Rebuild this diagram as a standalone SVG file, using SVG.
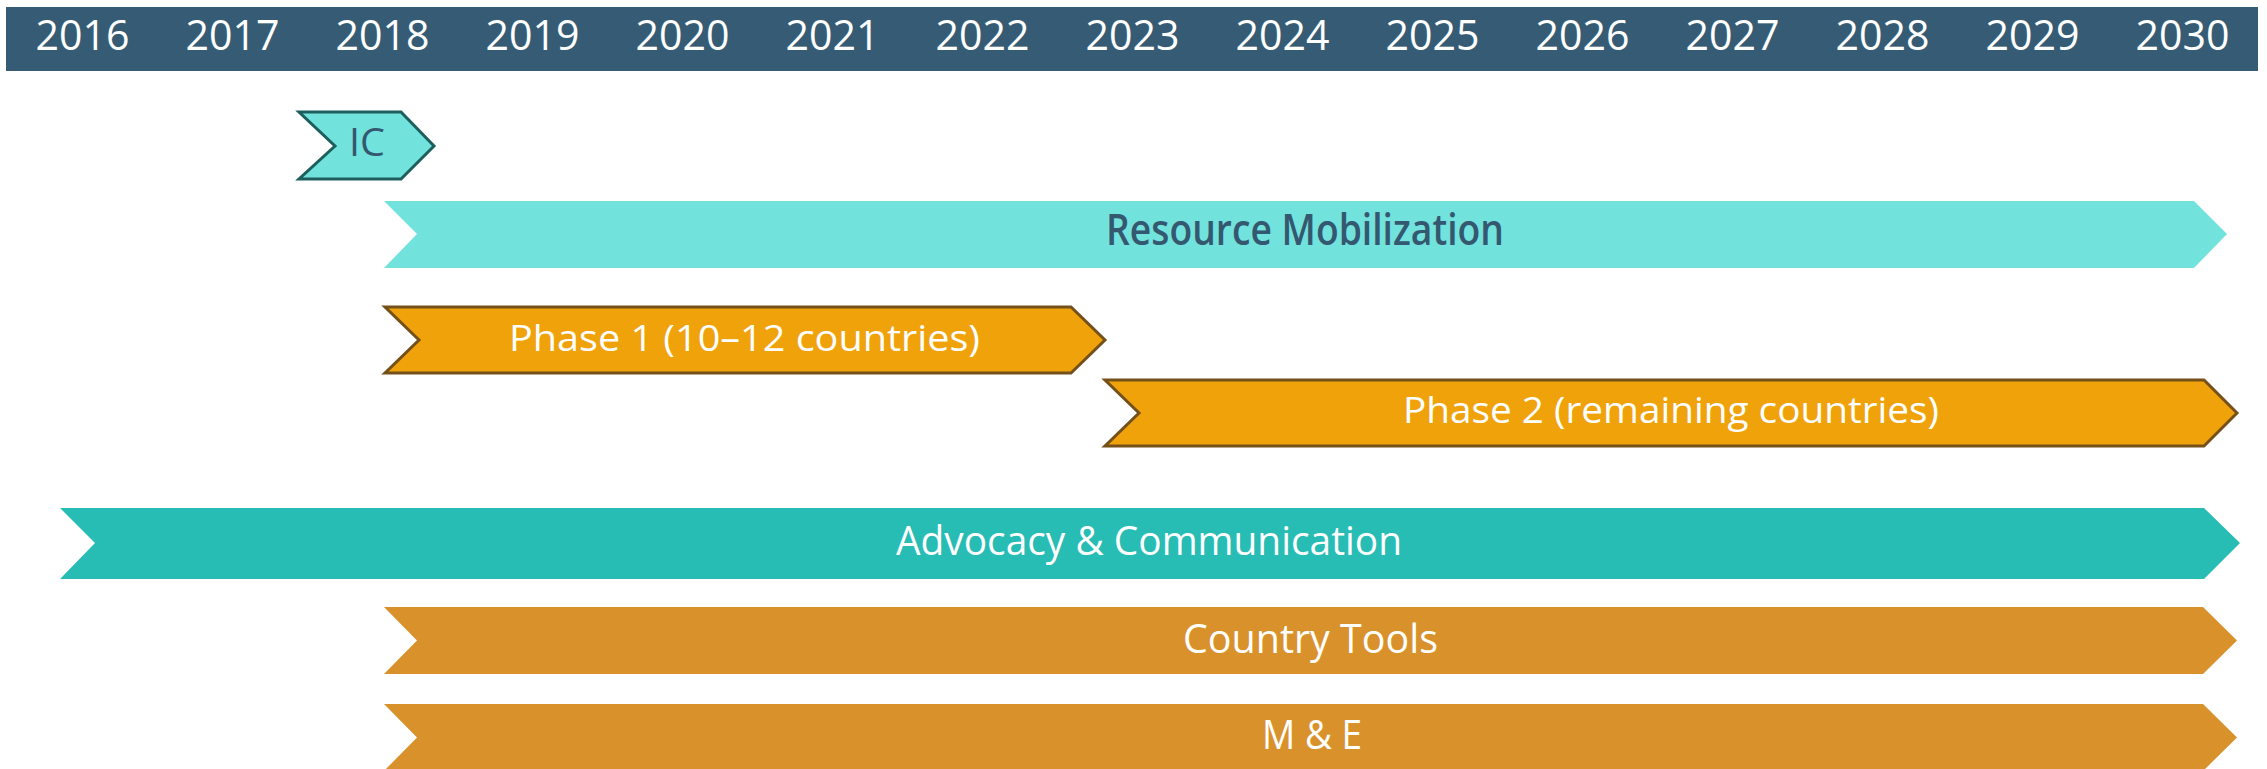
<svg xmlns="http://www.w3.org/2000/svg" width="2267" height="769" viewBox="0 0 2267 769">
  <style>
    text { font-family: "Open Sans", "Noto Sans", "Liberation Sans", sans-serif; text-anchor: middle; font-weight: 500; }
    .year { fill: #ffffff; font-size: 42px; }
    .dark { fill: #34586f; font-weight: 600; }
    .dark.regular { font-weight: 400; }
    .light { fill: #ffffff; }
    .teal-light { fill: #72e2dc; }
    .teal-dark { fill: #27bcb4; }
    .amber { fill: #f0a20b; stroke: #74501a; stroke-width: 3; stroke-linejoin: miter; }
    .ochre { fill: #d9922b; }
  </style>

  <!-- Year header band -->
  <g id="header">
    <rect x="6" y="7" width="2252" height="64" fill="#355c74"/>
    <text class="year" x="82.5" y="50" textLength="94" lengthAdjust="spacingAndGlyphs">2016</text>
    <text class="year" x="232.5" y="50" textLength="94" lengthAdjust="spacingAndGlyphs">2017</text>
    <text class="year" x="382.5" y="50" textLength="94" lengthAdjust="spacingAndGlyphs">2018</text>
    <text class="year" x="532.5" y="50" textLength="94" lengthAdjust="spacingAndGlyphs">2019</text>
    <text class="year" x="682.5" y="50" textLength="94" lengthAdjust="spacingAndGlyphs">2020</text>
    <text class="year" x="832.5" y="50" textLength="94" lengthAdjust="spacingAndGlyphs">2021</text>
    <text class="year" x="982.5" y="50" textLength="94" lengthAdjust="spacingAndGlyphs">2022</text>
    <text class="year" x="1132.5" y="50" textLength="94" lengthAdjust="spacingAndGlyphs">2023</text>
    <text class="year" x="1282.5" y="50" textLength="94" lengthAdjust="spacingAndGlyphs">2024</text>
    <text class="year" x="1432.5" y="50" textLength="94" lengthAdjust="spacingAndGlyphs">2025</text>
    <text class="year" x="1582.5" y="50" textLength="94" lengthAdjust="spacingAndGlyphs">2026</text>
    <text class="year" x="1732.5" y="50" textLength="94" lengthAdjust="spacingAndGlyphs">2027</text>
    <text class="year" x="1882.5" y="50" textLength="94" lengthAdjust="spacingAndGlyphs">2028</text>
    <text class="year" x="2032.5" y="50" textLength="94" lengthAdjust="spacingAndGlyphs">2029</text>
    <text class="year" x="2182.5" y="50" textLength="94" lengthAdjust="spacingAndGlyphs">2030</text>
  </g>

  <!-- IC -->
  <g id="ic">
    <polygon points="299,112 401,112 434,146 401,179 299,179 335,146" fill="#72e2dc" stroke="#1d5f5c" stroke-width="3"/>
    <text class="dark regular" x="367" y="156" font-size="39" textLength="36" lengthAdjust="spacingAndGlyphs">IC</text>
  </g>

  <!-- Resource Mobilization -->
  <g id="resource-mobilization">
    <polygon class="teal-light" points="384,201 2194,201 2227,234 2194,268 384,268 417,234"/>
    <text class="dark" x="1305" y="245" font-size="43" textLength="398" lengthAdjust="spacingAndGlyphs">Resource Mobilization</text>
  </g>

  <!-- Phase 1 -->
  <g id="phase-1">
    <polygon class="amber" points="385,307 1071,307 1105,340 1071,373 385,373 419,340"/>
    <text class="light" x="744.5" y="351" font-size="37" textLength="471" lengthAdjust="spacingAndGlyphs">Phase 1 (10–12 countries)</text>
  </g>

  <!-- Phase 2 -->
  <g id="phase-2">
    <polygon class="amber" points="1105,380 2204,380 2237,413 2204,446 1105,446 1139,413"/>
    <text class="light" x="1671" y="423" font-size="37" textLength="536" lengthAdjust="spacingAndGlyphs">Phase 2 (remaining countries)</text>
  </g>

  <!-- Advocacy & Communication -->
  <g id="advocacy">
    <polygon class="teal-dark" points="60,508 2204,508 2240,543 2204,579 60,579 95,543"/>
    <text class="light" x="1149" y="555" font-size="40" textLength="506" lengthAdjust="spacingAndGlyphs">Advocacy &amp; Communication</text>
  </g>

  <!-- Country Tools -->
  <g id="country-tools">
    <polygon class="ochre" points="384,607 2203,607 2237,640.5 2203,674 384,674 417,640.5"/>
    <text class="light" x="1310.5" y="652.7" font-size="40" textLength="255" lengthAdjust="spacingAndGlyphs">Country Tools</text>
  </g>

  <!-- M & E -->
  <g id="m-and-e">
    <polygon class="ochre" points="384,704 2203,704 2237,737.5 2203,771 384,771 417,737.5"/>
    <text class="light" x="1312" y="749" font-size="40" textLength="100" lengthAdjust="spacingAndGlyphs">M &amp; E</text>
  </g>

  <!-- connectors: none in this timeline -->
  <g id="connectors"/>
</svg>
